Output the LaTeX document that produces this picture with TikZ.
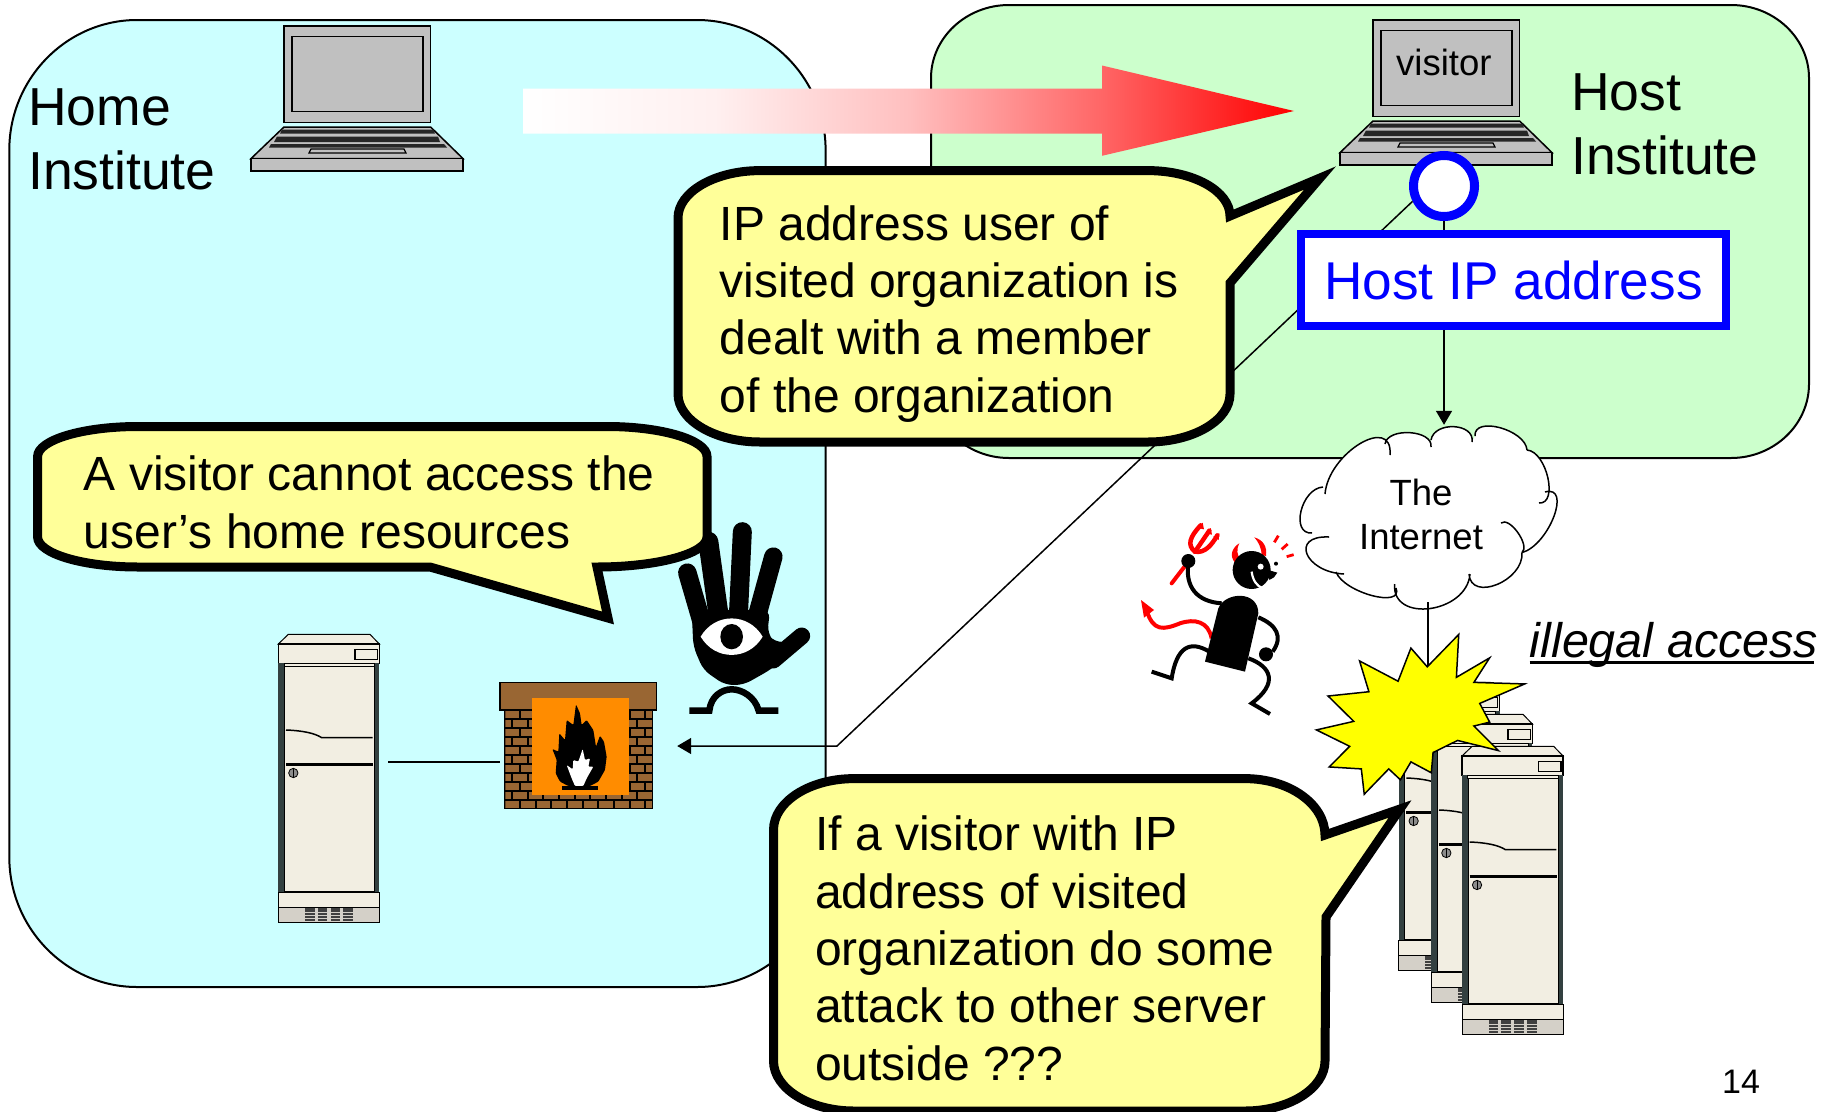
\documentclass[tikz,border=0pt]{standalone}
\usepackage{fontspec}
\setmainfont{Liberation Sans}
\usetikzlibrary{arrows.meta,calc,shapes.geometric}
\definecolor{homebg}{HTML}{CCFFFF}
\definecolor{hostbg}{HTML}{CCFFCC}
\definecolor{noteyellow}{HTML}{FFFF99}
\definecolor{lapgrey}{HTML}{C0C0C0}
\definecolor{cream}{HTML}{F2EEE2}
\definecolor{basegrey}{HTML}{D4D0C8}
\definecolor{brick}{HTML}{996633}
\definecolor{fireorange}{HTML}{FF8C00}
\definecolor{sidegrey}{HTML}{334040}
\definecolor{burstyellow}{HTML}{FFFF00}
\pgfdeclarehorizontalshading{redfade}{100bp}{color(0bp)=(white); color(25bp)=(white); color(37.5bp)=(red!6!white); color(50bp)=(red!25!white); color(62.5bp)=(red!60!white); color(75bp)=(red); color(100bp)=(red)}
\def\cor(#1)(#2)(#3){.. controls ($(#1)!.55!(#2)$) and ($(#3)!.55!(#2)$) .. (#3)}
\def\lb(#1)(#2)(#3){(#1) .. controls ($(#1)+1.333*(#2)-0.667*(#1)-0.667*(#3)$) and ($(#3)+1.333*(#2)-0.667*(#1)-0.667*(#3)$) .. (#3)}
\tikzset{
  region/.style={line width=2pt,draw=black},
  callout/.style={draw=black,fill=noteyellow,line width=9pt,miter limit=30,line join=miter},
  calltext/.style={anchor=north west,align=left,inner sep=0pt,font=\fontsize{48}{57.3}\selectfont},
  bigtext/.style={anchor=north west,align=left,inner sep=0pt,font=\fontsize{53.5}{64}\selectfont},
  wire/.style={line width=1.5pt,draw=black},
  ghost/.style={inner sep=0pt,draw=none},
  tip/.style={-{Triangle[length=14pt,width=16pt]}},
  laptopicon/.pic={
    \draw[fill=lapgrey,line width=1.5pt] (284,26) rectangle (430.6,122.5);
    \draw[fill=lapgrey,line width=1.5pt] (292,36.5) rectangle (423,111.5);
    \draw[fill=lapgrey,line width=1.5pt] (284,127) -- (430.6,127) -- (463,158.6) -- (251,158.6) -- cycle;
    \fill[black!85] (282,129.5) -- (433,129.5) -- (435,133.5) -- (280,133.5) -- cycle;
    \fill[black!85] (277,136.5) -- (438,136.5) -- (440,142) -- (274,142) -- cycle;
    \fill[black!85] (271,144) -- (444,144) -- (447,147.5) -- (269,147.5) -- cycle;
    \draw[fill=lapgrey,line width=1.2pt] (311,149) -- (404,149) -- (406,153) -- (309,153) -- cycle;
    \draw[fill=lapgrey,line width=1.5pt] (251,158.6) rectangle (463,171);
  },
  serverbox/.pic={
    \begin{scope}[shift={(260,620)},x=0.3333pt,y=-0.3333pt]
      \draw[fill=cream,line width=1pt] (85,43) -- (330,43) -- (358,72) -- (55,72) -- cycle;
      \draw[fill=cream,line width=1.2pt] (55,72) rectangle (358,130);
      \draw[fill=cream,line width=1.5pt] (285,88) rectangle (352,118);
      \fill[sidegrey] (55,130) rectangle (358,818);
      \draw[fill=cream,line width=1pt] (74,140) rectangle (343,815);
      \draw[fill=cream,line width=1pt] (72,130) rectangle (345,140);
      \draw[line width=1.5pt] (78,330) .. controls (130,332) and (165,340) .. (185,353) -- (338,353);
      \draw[line width=3pt] (78,435) -- (340,435);
      \draw[fill=black!45,line width=0.8pt] (100,459) ellipse (14 and 14);
      \draw[line width=0.8pt] (100,446) -- (100,472);
      \draw[fill=cream,line width=1pt] (55,818) rectangle (358,862);
      \draw[fill=basegrey,line width=1pt] (55,862) rectangle (358,907);
      \foreach \c in {135,173,212,250}{
        \fill[black!75] (\c,865) rectangle ++(29,38);
        \foreach \s in {875,885,895}{\fill[basegrey] (\c,\s) rectangle ++(29,1.5);}
      }
    \end{scope}
  },
}
\begin{document}
\begin{tikzpicture}[x=1pt,y=-1pt]
\useasboundingbox (0,0) rectangle (1830,1111);
\fill[white] (0,0) rectangle (1830,1111);
% institutes
\draw[region,fill=homebg] (137,20) -- (697,20) \cor(697,20)(825.6,20)(825.6,150) -- (825.6,857) \cor(825.6,857)(825.6,987)(697,987) -- (137,987) \cor(137,987)(9.3,987)(9.3,857) -- (9.3,150) \cor(9.3,150)(9.3,20)(137,20) -- cycle;
\draw[region,fill=hostbg] (1009,5) -- (1731,5) \cor(1731,5)(1809,5)(1809,78) -- (1809,384) \cor(1809,384)(1809,458)(1731,458) -- (1009,458) \cor(1009,458)(931,458)(931,384) -- (931,78) \cor(931,78)(931,5)(1009,5) -- cycle;
% gradient arrow
\shade[shading=redfade] (523,88.5) -- (1102,88.5) -- (1102,65.5) -- (1294,111) -- (1102,155.8) -- (1102,133.5) -- (523,133.5) -- cycle;
% laptops
\pic at (0,0) {laptopicon};
\pic at (1089,-6) {laptopicon};
\node[font=\fontsize{36.5}{40}\selectfont,anchor=base west,inner sep=0pt] (visitor) at (1396,75.4) {visitor};
\node[bigtext] (homelabel) at (28,88.5) {Home\\Institute};
\node[bigtext] (hostlabel) at (1571,73.5) {Host\\Institute};
% home server
\pic at (0,0) {serverbox};
\node[ghost,minimum width=110pt,minimum height=200pt] (homesrv) at (333,762) {};
% firewall
\begin{scope}[shift={(490,670)},x=0.3333pt,y=-0.3333pt]
  \fill[black] (42,120) rectangle (490,417);
  \begin{scope}
    \clip (46,120) rectangle (486,414);
    \foreach \r in {0,...,10}{
      \pgfmathsetmacro\yy{124+27*\r}
      \pgfmathsetmacro\xo{mod(\r,2)==0?46:22}
      \foreach \c in {0,...,9}{
        \fill[brick] ({\xo+47*\c},\yy) rectangle ++(41,20);
      }
    }
  \end{scope}
  \draw[fill=brick,line width=1.5pt] (30,37) rectangle (500,120);
  \fill[fireorange] (126,84) rectangle (416,374);
  \fill[black,rounded corners=1pt] (258,103) -- (270,130) -- (275,165) -- (290,150) -- (310,180) -- (318,230) -- (330,197) -- (342,215) -- (350,260) -- (345,300) -- (325,335) -- (300,348) -- (235,348) -- (210,335) -- (197,310) -- (200,270) -- (187,237) -- (205,245) -- (208,190) -- (225,210) -- (230,150) -- (250,165) -- cycle;
  \fill[white,rounded corners=1pt] (278,237) -- (285,270) -- (300,265) -- (295,290) -- (310,290) -- (290,325) -- (280,348) -- (255,348) -- (245,325) -- (230,285) -- (248,298) -- (250,270) -- (265,275) -- cycle;
  \fill[black] (216,348) rectangle (324,359);
\end{scope}
\node[ghost,minimum width=176.4pt,minimum height=100pt] (fw) at (588.8,762) {};
\draw[wire] (homesrv.east) -- (fw.west);
% hand
\begin{scope}[shift={(660,500)},x=0.3333pt,y=-0.3333pt]
  \draw[line width=18.5pt,line cap=round] (82,218) -- (135,400);
  \draw[line width=20pt,line cap=round] (145,125) -- (175,340);
  \draw[line width=19pt,line cap=round] (247,95) -- (235,350);
  \draw[line width=18.5pt,line cap=round] (340,170) -- (285,370);
  \draw[line width=17pt,line cap=round] (425,408) -- (340,480);
  \fill[black,rounded corners=8pt] (95,330) -- (330,330) -- (322,400) -- (345,428) -- (425,420) -- (420,440) -- (330,510) -- (250,555) -- (195,555) -- (130,510) -- (100,440) -- cycle;
  \fill[white] (122,410) .. controls (165,337) and (265,337) .. (308,410) .. controls (265,483) and (165,483) .. (122,410) -- cycle;
  \fill[black] (215,410) ellipse (34 and 38);
  \draw[line width=6.5pt] (88,632) -- (148,632) .. controls (152,590) and (185,568) .. (215,568) .. controls (245,568) and (285,590) .. (296,632) -- (355,632);
\end{scope}
% devil
\begin{scope}[shift={(1130,520)},x=0.3333pt,y=-0.3333pt]
  \draw[red,line width=4pt,line cap=round] (125,190) -- (175,125);
  \draw[red,line width=4.5pt,line cap=round] (195,95) -- (238,32);
  \draw[red,line width=4.5pt,line cap=round] (195,95) .. controls (170,75) and (180,50) .. (212,16);
  \draw[red,line width=4.5pt,line cap=round] (195,95) .. controls (225,100) and (245,75) .. (262,46);
  \fill[red] (218,8) -- (222,28) -- (204,24) -- cycle;
  \fill[red] (242,24) -- (246,44) -- (228,40) -- cycle;
  \fill[red] (268,40) -- (266,60) -- (250,50) -- cycle;
  \draw[red,line width=4pt] (245,355) .. controls (235,305) and (195,295) .. (150,310) .. controls (100,330) and (70,335) .. (50,272);
  \fill[red] (33,240) -- (72,270) -- (42,293) -- cycle;
  \draw[black,line width=4pt] (175,130) .. controls (165,200) and (200,245) .. (275,250);
  \fill[black] (175,123) circle (21);
  \draw[black,line width=4pt] (385,292) .. controls (440,315) and (460,350) .. (428,395);
  \fill[black] (408,403) circle (21);
  \draw[black,line width=4pt] (238,395) .. controls (180,360) and (140,380) .. (125,475) -- (65,455);
  \draw[black,line width=4pt] (355,415) .. controls (425,440) and (445,490) .. (365,550) -- (420,582);
  \fill[black] (225,425) -- (265,265) .. controls (285,215) and (385,210) .. (385,280) -- (345,455) -- cycle;
  \fill[red] (315,128) .. controls (295,105) and (310,80) .. (328,70) .. controls (318,90) and (322,105) .. (330,115) -- cycle;
  \fill[red] (395,105) .. controls (395,85) and (385,65) .. (373,52) .. controls (400,60) and (412,80) .. (408,108) -- cycle;
  \fill[black] (365,150) circle (57);
  \fill[black] (415,150) -- (442,158) -- (432,172) -- (418,180) -- cycle;
  \fill[white] (392,140) circle (9);
  \draw[white,line width=2.2pt] (365,155) .. controls (368,180) and (380,198) .. (398,205);
  \fill[black] (438,131) circle (6);
  \draw[red,line width=2.8pt] (433,67) -- (445,47);
  \draw[red,line width=2.8pt] (455,88) -- (473,72);
  \draw[red,line width=2.8pt] (470,110) -- (491,104);
\end{scope}
% host side: port, links, address
\node[circle,draw=blue,fill=white,line width=9pt,minimum size=61pt,inner sep=0pt] (port) at (1444,186) {};
\coordinate (bend) at (837,746);
\draw[wire,tip] (port.206) -- (bend) -- (bend -| fw.east);
\node[draw=blue,fill=white,line width=8pt,minimum width=425pt,minimum height=92pt,inner sep=0pt,text=blue,font=\fontsize{53.2}{60}\selectfont] (hostaddr) at (1513.5,280) {Host IP address};
\draw[wire] (port.south) -- (hostaddr.north -| port);
% cloud
\node[ghost,minimum width=257pt,minimum height=186pt] (cloud) at (1428,518) {};
\draw[wire,tip] (hostaddr.south -| port) -- (cloud.north -| port);
\fill[white] \lb(1325,494)(1361,444)(1390,455) -- \lb(1385,444)(1411,433)(1431,447) -- \lb(1431,440)(1455,427)(1472,442) -- \lb(1475,436)(1501,428)(1527,450) -- \lb(1527,450)(1549,478)(1539,503) -- \lb(1545,492)(1555,517)(1522,552.6) -- \lb(1522,552.6)(1498,585)(1469,574) -- \lb(1470,574)(1431,609)(1394.6,584) -- \lb(1396,588)(1373,596)(1336,572) -- \lb(1344,574)(1308,554.5)(1329,537) -- \lb(1312,533)(1302,511.5)(1323,487) -- cycle;
\draw[line width=1.5pt]
  \lb(1325,494)(1361,444)(1390,455)
  \lb(1385,444)(1411,433)(1431,447)
  \lb(1431,440)(1455,427)(1472,442)
  \lb(1475,436)(1501,428)(1527,450)
  \lb(1527,450)(1549,478)(1539,503)
  \lb(1545,492)(1555,517)(1522,552.6)
  \lb(1501,523)(1519,533)(1522,552.6)
  \lb(1522,552.6)(1498,585)(1469,574)
  \lb(1470,574)(1431,609)(1394.6,584)
  \lb(1396,588)(1373,596)(1336,572)
  \lb(1344,574)(1308,554.5)(1329,537)
  \lb(1312,533)(1302,511.5)(1323,487);
\node[align=center,inner sep=0pt,font=\fontsize{36.5}{44}\selectfont] (cloudtext) at (1421,514.5) {The\\Internet};
% servers attacked
\pic at (1120.3,48) {serverbox};
\pic at (1153,80) {serverbox};
\pic at (1183.7,112) {serverbox};
\coordinate (burst) at (1428,668);
\draw[wire] ($(cloud.south)+(0,-9)$) -- (burst);
\begin{scope}[shift={(915,500)},x=0.5834pt,y=-0.3897pt]
  \draw[fill=burstyellow,line width=1.5pt,line join=miter,miter limit=20] (932,345) -- (928,455) -- (985,405) -- (958,468) -- (1045,472) -- (968,522) -- (985,570) -- (958,580) -- (1000,643) -- (930,617) -- (888,648) -- (885,700) -- (850,672) -- (832,718) -- (812,690) -- (770,755) -- (765,690) -- (710,685) -- (745,632) -- (688,590) -- (752,568) -- (708,503) -- (778,492) -- (762,413) -- (828,465) -- (850,380) -- (878,428) -- cycle;
\end{scope}
% callouts
\draw[callout] (760,170.6) -- (1148,170.6) \cor(1148,170.6)(1230,170.6)(1230,216) -- (1320,178) -- (1230,283) -- (1230,394) \cor(1230,394)(1230,442)(1148,442) -- (760,442) \cor(760,442)(678,442)(678,394) -- (678,218) \cor(678,218)(678,170.6)(760,170.6) -- cycle;
\node[calltext] (note1) at (719.5,205.3) {IP address user of\\visited organization is\\dealt with a member\\of the organization};
\draw[callout] (138,426.5) -- (607,426.5) \cor(607,426.5)(707,426.5)(707,456.5) -- (707,537) \cor(707,537)(707,567)(597,567) -- (608,618) -- (430,567) -- (138,567) \cor(138,567)(37.6,567)(37.6,537) -- (37.6,456.5) \cor(37.6,456.5)(37.6,426.5)(138,426.5) -- cycle;
\node[calltext] (note2) at (83.6,456) {A visitor cannot access the\\user’s home resources};
\draw[callout] (854,778.6) -- (1245,778.6) \cor(1245,778.6)(1325,778.6)(1325,835) -- (1400,809) -- (1326,917) -- (1325,1061) \cor(1325,1061)(1325,1111)(1245,1111) -- (854,1111) \cor(854,1111)(773.5,1111)(773.5,1061) -- (773.5,830) \cor(773.5,830)(773.5,778.6)(854,778.6) -- cycle;
\node[calltext] (note3) at (815,816) {If a visitor with IP\\address of visited\\organization do some\\attack to other server\\outside ???};
% labels
\node[anchor=base west,inner sep=0pt,font=\fontsize{48.5}{56}\selectfont\itshape] (illegal) at (1529.5,657) {\rlap{\rule[-6.5pt]{284pt}{2.5pt}}illegal access};
\node[anchor=base west,inner sep=0pt,font=\fontsize{34}{40}\selectfont] (pageno) at (1722,1093.5) {14};
\end{tikzpicture}
\end{document}
